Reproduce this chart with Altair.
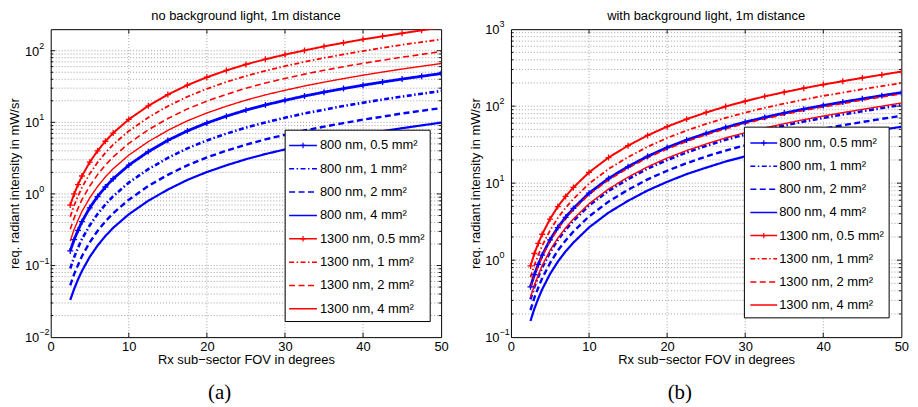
import math
import altair as alt
import pandas as pd

# ---------------- data ----------------
FOV = [2.5, 3, 3.5, 4, 5, 6, 7, 8, 10, 12.5, 15, 17.5, 20, 22.5, 25, 27.5,
       30, 32.5, 35, 37.5, 40, 42.5, 45, 47.5, 50]

SERIES = ["800 nm, 0.5 mm²", "800 nm, 1 mm²", "800 nm, 2 mm²", "800 nm, 4 mm²",
          "1300 nm, 0.5 mm²", "1300 nm, 1 mm²", "1300 nm, 2 mm²", "1300 nm, 4 mm²"]
COLORS = ["#0000ff"] * 4 + ["#ff0000"] * 4
MARKER_SERIES = [SERIES[0], SERIES[4]]

# (a) no background light
A_800_05 = [0.16, 0.23, 0.31, 0.41, 0.64, 0.92, 1.25, 1.63, 2.52, 3.9, 5.6, 7.6, 9.8, 12.2, 14.8, 17.5, 20.3, 23.3, 26.4, 29.6, 33.0, 36.5, 40.2, 44.0, 48.0]
A_800_1 = [0.091, 0.131, 0.177, 0.234, 0.365, 0.524, 0.713, 0.929, 1.44, 2.22, 3.19, 4.33, 5.59, 6.95, 8.44, 9.98, 11.6, 13.3, 15.0, 16.9, 18.8, 20.8, 22.9, 25.1, 27.4]
A_800_2 = [0.053, 0.076, 0.102, 0.135, 0.211, 0.304, 0.413, 0.538, 0.832, 1.29, 1.85, 2.51, 3.23, 4.03, 4.88, 5.78, 6.70, 7.69, 8.71, 9.77, 10.9, 12.0, 13.3, 14.5, 15.8]
A_800_4 = [0.033, 0.047, 0.064, 0.084, 0.132, 0.190, 0.258, 0.336, 0.519, 0.803, 1.15, 1.57, 2.02, 2.51, 3.05, 3.61, 4.18, 4.80, 5.44, 6.10, 6.80, 7.52, 8.28, 9.06, 9.89]
A_1300_05 = [0.70, 1.00, 1.35, 1.78, 2.78, 4.00, 5.44, 7.09, 11.0, 17.0, 24.4, 33.1, 42.6, 53.1, 64.4, 76.1, 88.3, 101, 115, 129, 144, 159, 175, 193, 212]
A_1300_1 = [0.48, 0.69, 0.93, 1.23, 1.92, 2.76, 3.75, 4.89, 7.56, 11.7, 16.8, 22.8, 29.4, 36.6, 44.4, 52.5, 60.9, 69.9, 79.2, 88.8, 99.0, 110, 121, 132, 144]
A_1300_2 = [0.32, 0.46, 0.63, 0.83, 1.29, 1.86, 2.53, 3.29, 5.09, 7.88, 11.3, 15.4, 19.8, 24.6, 29.9, 35.4, 41.0, 47.1, 53.3, 59.8, 66.7, 73.7, 81.2, 88.9, 97.0]
A_1300_4 = [0.22, 0.32, 0.43, 0.57, 0.88, 1.27, 1.73, 2.25, 3.48, 5.38, 7.73, 10.5, 13.5, 16.8, 20.4, 24.2, 28.0, 32.2, 36.4, 40.8, 45.5, 50.4, 55.5, 60.7, 66.2]

# (b) with background light
B_800_05 = [0.45, 0.65, 0.88, 1.16, 1.83, 2.65, 3.6, 4.7, 7.4, 11.5, 16.4, 22.3, 29.0, 36.3, 44.3, 53.0, 62.0, 71.5, 81.3, 91.5, 102, 113, 124.5, 137, 150]
B_800_1 = [0.31, 0.45, 0.61, 0.80, 1.26, 1.83, 2.48, 3.24, 5.11, 7.94, 11.3, 15.4, 20.0, 25.0, 30.6, 36.6, 42.8, 49.3, 56.1, 63.1, 70.4, 78.0, 85.9, 94.5, 104]
B_800_2 = [0.225, 0.325, 0.44, 0.58, 0.915, 1.33, 1.8, 2.35, 3.7, 5.75, 8.2, 11.2, 14.5, 18.2, 22.2, 26.5, 31.0, 35.8, 40.7, 45.8, 51.0, 56.5, 62.3, 68.5, 75.0]
B_800_4 = [0.162, 0.234, 0.317, 0.418, 0.659, 0.954, 1.30, 1.69, 2.66, 4.14, 5.90, 8.03, 10.4, 13.1, 15.9, 19.1, 22.3, 25.7, 29.3, 32.9, 36.7, 40.7, 44.8, 49.3, 54.0]
B_1300_05 = [0.84, 1.22, 1.65, 2.17, 3.42, 4.96, 6.73, 8.79, 13.8, 21.5, 30.7, 41.7, 54.2, 67.9, 82.8, 99.1, 116, 134, 152, 171, 191, 211, 233, 256, 281]
B_1300_1 = [0.60, 0.86, 1.17, 1.54, 2.43, 3.52, 4.79, 6.25, 9.84, 15.3, 21.8, 29.7, 38.6, 48.3, 58.9, 70.5, 82.5, 95.1, 108, 122, 136, 150, 166, 182, 200]
B_1300_2 = [0.43, 0.62, 0.84, 1.11, 1.76, 2.54, 3.46, 4.51, 7.10, 11.0, 15.7, 21.4, 27.8, 34.8, 42.5, 50.9, 59.5, 68.6, 78.0, 87.8, 97.9, 108, 120, 132, 144]
B_1300_4 = [0.33, 0.47, 0.64, 0.85, 1.34, 1.93, 2.63, 3.43, 5.40, 8.40, 12.0, 16.3, 21.2, 26.5, 32.3, 38.7, 45.3, 52.2, 59.3, 66.8, 74.5, 82.5, 90.9, 100, 110]

A_VALUES = [A_800_05, A_800_1, A_800_2, A_800_4, A_1300_05, A_1300_1, A_1300_2, A_1300_4]
B_VALUES = [B_800_05, B_800_1, B_800_2, B_800_4, B_1300_05, B_1300_1, B_1300_2, B_1300_4]

X_TICKS = [0, 10, 20, 30, 40, 50]
X_GRID = [10, 20, 30, 40]
A_Y_DOMAIN = [0.01, 200]
A_Y_TICKS = [0.01, 0.1, 1, 10, 100]
A_Y_EXP = ["−2", "−1", "0", "1", "2"]
B_Y_DOMAIN = [0.1, 1000]
B_Y_TICKS = [0.1, 1, 10, 100, 1000]
B_Y_EXP = ["−1", "0", "1", "2", "3"]

# ---------------- styling ----------------
FONT = "Liberation Sans"
W, H = 393, 310
DASHES = [[1, 0], [5, 2.5, 1.5, 2.5], [6, 3.5], [1, 0]] * 2
WIDTHS = [2.8, 1.4, 1.4, 1.4] * 2
PLUS = "M-1,0L1,0M0,-1L0,1"
GRID = dict(color="#8a8a8a", strokeDash=[1, 2], strokeWidth=0.8)
ONE = pd.DataFrame({"k": [0]})


def grid_values(dom):
    out = []
    for k in range(-3, 4):
        for m in range(1, 10):
            v = m * 10.0 ** k
            if dom[0] * 1.001 < v < dom[1] * 0.999:
                out.append(v)
    return out


def panel(values, ydom, yticks, yexp, title, caption, leg):
    xsc = alt.Scale(domain=[0, 50], nice=False, zero=False)
    ysc = alt.Scale(type="log", domain=ydom, nice=False)
    x_axis = alt.Axis(values=X_TICKS, title="Rx sub−sector FOV in degrees", grid=False,
                      ticks=False, domain=False, labelPadding=3, titlePadding=1,
                      labelFlush=False, labelOverlap=False,
                      labelFont=FONT, labelFontSize=13, labelColor="black",
                      titleFont=FONT, titleFontSize=13, titleFontWeight="normal",
                      titleColor="black")
    y_axis = alt.Axis(values=yticks, labels=False, ticks=False, domain=False, grid=False,
                      title="req. radiant intensity in mW/sr", titlePadding=29,
                      titleFont=FONT, titleFontSize=13, titleFontWeight="normal",
                      titleColor="black")

    def X(f="fov:Q"):
        return alt.X(f, scale=xsc, axis=x_axis)

    def Y(f="val:Q"):
        return alt.Y(f, scale=ysc, axis=y_axis)

    rows = []
    for s, vals in zip(SERIES, values):
        for x, y in zip(FOV, vals):
            rows.append({"fov": x, "val": y, "series": s})
    df = pd.DataFrame(rows)

    gv = grid_values(ydom)
    major = [v for v in gv if abs(math.log10(v) - round(math.log10(v))) < 1e-9]
    minor = [v for v in gv if v not in major]
    gy = pd.DataFrame({"val": gv})
    gmaj = pd.DataFrame({"val": major})
    gmin = pd.DataFrame({"val": minor})
    gx = pd.DataFrame({"fov": X_GRID})

    layers = [
        alt.Chart(gx).mark_rule(**GRID).encode(x=X()),
        alt.Chart(gy).mark_rule(**GRID).encode(y=Y()),
    ]
    # inward ticks (MATLAB style)
    for d, ln in ((gmaj, 4.5), (gmin, 2.5)):
        for a, b in ((0, ln), (W - ln, W)):
            layers.append(alt.Chart(d).mark_rule(color="black", strokeWidth=0.9).encode(
                y=Y(), x=alt.value(a), x2=alt.value(b)))
    for a, b in ((0, 4.5), (H - 4.5, H)):
        layers.append(alt.Chart(gx).mark_rule(color="black", strokeWidth=0.9).encode(
            x=X(), y=alt.value(a), y2=alt.value(b)))

    color = alt.Color("series:N", scale=alt.Scale(domain=SERIES, range=COLORS), legend=None)
    dash = alt.StrokeDash("series:N", scale=alt.Scale(domain=SERIES, range=DASHES), legend=None)
    sw = alt.StrokeWidth("series:N", scale=alt.Scale(domain=SERIES, range=WIDTHS), legend=None)

    layers.append(alt.Chart(df).mark_line(clip=True).encode(
        x=X(), y=Y(), color=color, strokeDash=dash, strokeWidth=sw))

    mk = df[df["series"].isin(MARKER_SERIES)]
    layers.append(alt.Chart(mk).mark_point(shape=PLUS, filled=False, size=36, strokeWidth=1.3,
                                           opacity=1, clip=True).encode(
        x=X(), y=Y(), color=color))

    # legend box
    bx0, bx1, by0, by1, row0, dy, sx0, sx1, tx = leg
    layers.append(alt.Chart(ONE).mark_rect(fill="white", stroke="black", strokeWidth=1).encode(
        x=alt.value(bx0), x2=alt.value(bx1), y=alt.value(by0), y2=alt.value(by1)))
    for i, s in enumerate(SERIES):
        yy = row0 + dy * i
        layers.append(alt.Chart(ONE).mark_rule(color=COLORS[i], strokeDash=DASHES[i],
                                               strokeWidth=1.5).encode(
            x=alt.value(sx0), x2=alt.value(sx1), y=alt.value(yy)))
        if s in MARKER_SERIES:
            layers.append(alt.Chart(ONE).mark_point(shape=PLUS, filled=False, size=30,
                                                    strokeWidth=1.2, opacity=1,
                                                    color=COLORS[i]).encode(
                x=alt.value((sx0 + sx1) / 2), y=alt.value(yy)))
        layers.append(alt.Chart(ONE).mark_text(text=s, align="left", baseline="middle",
                                               font=FONT, fontSize=13, color="black").encode(
            x=alt.value(tx), y=alt.value(yy)))

    # y tick labels 10^k
    lab = pd.DataFrame({"val": yticks, "base": ["10"] * len(yticks), "exp": yexp})
    layers.append(alt.Chart(lab).mark_text(align="left", baseline="middle", font=FONT,
                                           fontSize=13, dy=1, color="black").encode(
        x=alt.value(-26), y=Y(), text="base:N"))
    layers.append(alt.Chart(lab).mark_text(align="left", baseline="middle", font=FONT,
                                           fontSize=9, dy=-5, color="black").encode(
        x=alt.value(-11.5), y=Y(), text="exp:N"))

    # panel title and caption
    layers.append(alt.Chart(ONE).mark_text(text=title, font=FONT, fontSize=13,
                                           align="center", baseline="alphabetic",
                                           color="black").encode(
        x=alt.value(W / 2), y=alt.value(-9.5)))
    layers.append(alt.Chart(ONE).mark_text(text=caption, font="Liberation Serif", fontSize=21,
                                           align="center", baseline="middle",
                                           color="black").encode(
        x=alt.value(170), y=alt.value(H + 56)))

    return alt.layer(*layers).properties(width=W, height=H)


left = panel(A_VALUES, A_Y_DOMAIN, A_Y_TICKS, A_Y_EXP, "no background light, 1m distance",
             "(a)", (236, 382, 101.7, 294.3, 117, 23.5, 240, 268, 271))
right = panel(B_VALUES, B_Y_DOMAIN, B_Y_TICKS, B_Y_EXP, "with background light, 1m distance",
              "(b)", (235, 380.7, 98.6, 290.6, 114.6, 23.3, 241, 268, 270))

chart = alt.hconcat(left, right, spacing=70.3, bounds="flush").properties(
    padding={"left": 0, "top": 0, "right": 0, "bottom": 0},
    background="white",
).configure_view(stroke="black", strokeWidth=1)

chart.save("out.html", embed_options={"renderer": "svg", "actions": False})
